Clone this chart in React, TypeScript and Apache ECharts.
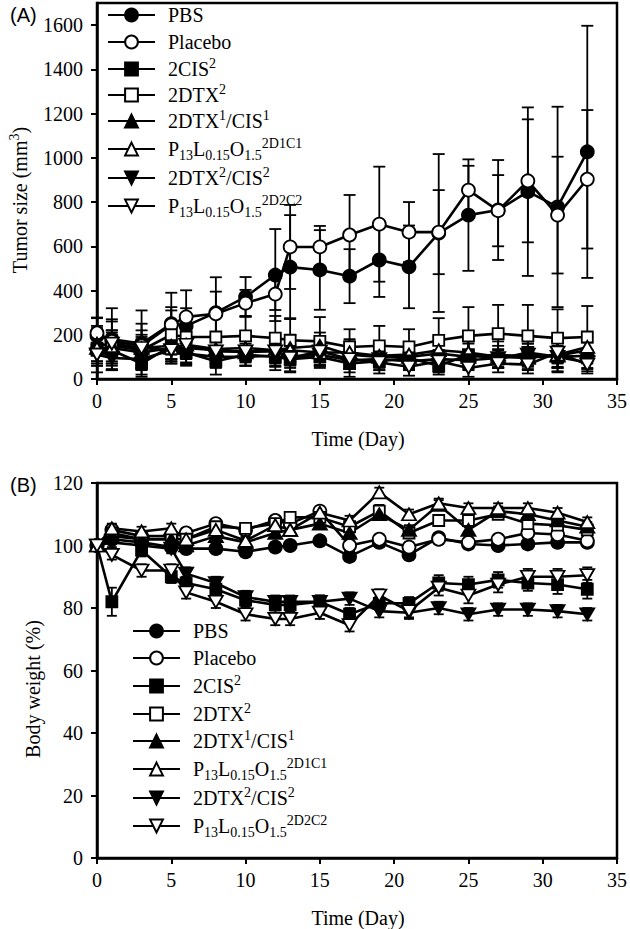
import React, { useEffect, useRef } from 'react';
import * as echarts from 'echarts';

// ---------- data ----------
const days = [0, 1, 3, 5, 6, 8, 10, 12, 13, 15, 17, 19, 21, 23, 25, 27, 29, 31, 33];

const seriesNames = ['PBS', 'Placebo', '2CIS2', '2DTX2', '2DTX1/CIS1', 'P13L0.15O1.5 2D1C1', '2DTX2/CIS2', 'P13L0.15O1.5 2D2C2'];
const legendLabels = [
  'PBS',
  'Placebo',
  '2CIS{sup|2}',
  '2DTX{sup|2}',
  '2DTX{sup|1}/CIS{sup|1}',
  'P{sub|13}L{sub|0.15}O{sub|1.5}{sup|2D1C1}',
  '2DTX{sup|2}/CIS{sup|2}',
  'P{sub|13}L{sub|0.15}O{sub|1.5}{sup|2D2C2}',
];

// (A) tumor size (mm3)
const tumorPBS = [195, 180, 160, 250, 240, 300, 371, 470, 506, 493, 465, 538, 507, 660, 741, 764, 847, 778, 1027];
const tumorPBSErr = [80, 140, 150, 140, 80, 160, 90, 208, 235, 180, 122, 167, 187, 357, 252, 226, 381, 453, 570];
const tumorPlacebo = [208, 170, 150, 245, 281, 295, 343, 384, 597, 597, 651, 700, 664, 664, 854, 761, 896, 741, 903];
const tumorPlaceboErr = [70, 100, 100, 80, 120, 100, 60, 72, 190, 95, 181, 260, 136, 190, 110, 161, 278, 264, 313];
const tumor2CIS2 = [140, 130, 70, 150, 120, 80, 110, 100, 90, 100, 70, 80, 95, 60, 110, 90, 120, 100, 105];
const tumor2CIS2Err = [60, 70, 50, 60, 60, 60, 50, 60, 60, 50, 60, 40, 50, 40, 60, 40, 60, 70, 60];
const tumor2DTX2 = [130, 150, 130, 200, 190, 190, 195, 185, 175, 170, 145, 150, 145, 175, 195, 205, 195, 185, 190];
const tumor2DTX2Err = [100, 110, 90, 110, 100, 100, 90, 100, 100, 110, 80, 90, 80, 100, 130, 130, 140, 130, 140];
const tumorD1C1 = [160, 150, 140, 150, 140, 130, 120, 130, 140, 150, 110, 100, 100, 115, 100, 110, 100, 105, 130];
const tumorD1C1Err = [80, 70, 60, 70, 70, 60, 60, 70, 60, 60, 60, 60, 50, 60, 60, 60, 60, 70, 60];
const tumorP2D1C1 = [140, 140, 120, 140, 155, 135, 140, 130, 130, 120, 120, 105, 110, 130, 120, 100, 95, 110, 145];
const tumorP2D1C1Err = [70, 70, 60, 70, 80, 60, 60, 60, 70, 60, 60, 50, 50, 60, 60, 50, 50, 60, 60];
const tumorD2C2 = [110, 95, 90, 130, 115, 100, 100, 105, 100, 110, 85, 90, 80, 90, 85, 95, 110, 100, 75];
const tumorD2C2Err = [50, 50, 40, 50, 50, 50, 40, 50, 50, 50, 40, 40, 40, 40, 40, 40, 50, 50, 40];
const tumorP2D2C2 = [110, 160, 140, 130, 155, 125, 125, 125, 95, 125, 90, 75, 55, 80, 50, 70, 65, 120, 65];
const tumorP2D2C2Err = [50, 60, 50, 60, 60, 50, 50, 50, 60, 60, 60, 50, 40, 50, 40, 40, 40, 50, 40];

// (B) body weight (%)
const bwPBS = [100, 102, 101, 99.5, 99, 99, 98, 99.5, 100, 101.5, 96.5, 101, 97, 102.5, 100.5, 100, 100.5, 101, 101];
const bwPBSErr = [0.5, 1.5, 1.5, 1.5, 1.5, 1.5, 1.5, 1.5, 1.5, 1.5, 1.5, 1.5, 1.5, 1.5, 1.5, 1.5, 1.5, 1.5, 1.5];
const bwPlacebo = [100, 105, 103, 103, 104, 107, 105, 108, 107, 111, 100, 102, 99.5, 102, 101, 102, 104, 103.5, 101.5];
const bwPlaceboErr = [0.5, 1.5, 1.5, 1.5, 1.5, 1.5, 1.5, 1.5, 1.5, 1.5, 1.5, 1.5, 1.5, 1.5, 1.5, 1.5, 1.5, 1.5, 1.5];
const bw2CIS2 = [100, 82, 98.5, 90, 88, 86, 82.5, 81, 81, 82, 78, 81.5, 81.5, 88, 87.5, 89, 88, 87.5, 86];
const bw2CIS2Err = [0.5, 4.5, 2, 2, 2, 2, 2, 2.5, 2, 2, 2, 2, 2, 2.5, 2.5, 2.5, 2.5, 3, 3];
const bw2DTX2 = [100, 104, 102, 102, 102, 106, 105.5, 107, 109, 109, 106, 111, 104, 108, 108, 110, 107, 106.5, 105];
const bw2DTX2Err = [0.5, 1.5, 1.5, 1.5, 1.5, 1.5, 1.5, 1.5, 1.5, 1.5, 1.5, 2, 1.5, 1.5, 1.5, 1.5, 1.5, 1.5, 1.5];
const bwD1C1 = [100, 103, 102, 102, 100, 103, 101, 104, 105, 107, 104, 110, 105, 113, 105, 111, 110, 108, 106];
const bwD1C1Err = [0.5, 1.5, 1.5, 1.5, 1.5, 1.5, 1.5, 1.5, 1.5, 1.5, 1.5, 1.5, 1.5, 1.5, 1.5, 1.5, 1.5, 1.5, 1.5];
const bwP2D1C1 = [100, 105.5, 104.5, 105.5, 102, 105, 101.5, 106.5, 105, 110.5, 108, 117, 110, 113.5, 112, 112, 112, 110.5, 107.5];
const bwP2D1C1Err = [0.5, 1.5, 1.5, 1.5, 1.5, 1.5, 1.5, 1.5, 1.5, 1.5, 1.5, 1.5, 1.5, 1.5, 1.5, 1.5, 1.5, 1.5, 1.5];
const bwD2C2 = [100, 101, 100, 99, 91, 88, 83.5, 82, 82, 82, 83, 79, 78.5, 80, 78, 79.5, 79.5, 79, 78];
const bwD2C2Err = [0.5, 1.5, 1.5, 1.5, 2, 2, 2, 2, 2, 2, 2, 2, 2, 2, 2, 2, 2, 2, 2];
const bwP2D2C2 = [100, 97, 92, 92, 85, 82, 78, 76.5, 76.5, 78.5, 74.5, 84, 79, 86.5, 84, 87.5, 90, 90, 90.5];
const bwP2D2C2Err = [0.5, 1.5, 2, 2, 2, 2, 2, 2, 2, 2, 2, 2, 2, 2.5, 2.5, 2.5, 2.5, 2.5, 2.5];

const tumorValues = [tumorPBS, tumorPlacebo, tumor2CIS2, tumor2DTX2, tumorD1C1, tumorP2D1C1, tumorD2C2, tumorP2D2C2];
const tumorErrors = [tumorPBSErr, tumorPlaceboErr, tumor2CIS2Err, tumor2DTX2Err, tumorD1C1Err, tumorP2D1C1Err, tumorD2C2Err, tumorP2D2C2Err];
const bwValues = [bwPBS, bwPlacebo, bw2CIS2, bw2DTX2, bwD1C1, bwP2D1C1, bwD2C2, bwP2D2C2];
const bwErrors = [bwPBSErr, bwPlaceboErr, bw2CIS2Err, bw2DTX2Err, bwD1C1Err, bwP2D1C1Err, bwD2C2Err, bwP2D2C2Err];

const xTicks = [0, 5, 10, 15, 20, 25, 30, 35];
const tumorTicks = [0, 200, 400, 600, 800, 1000, 1200, 1400, 1600];
const bwTicks = [0, 20, 40, 60, 80, 100, 120];

// ---------- styles ----------
const FONT = 'Liberation Serif, Times New Roman, serif';
const SANS = 'Liberation Sans, Arial, sans-serif';
const DOWN = 'path://M0,0L10,0L5,8.66Z';
const markerDefs: [string, boolean, number | number[]][] = [
  ['circle', true, 13],
  ['circle', false, 13],
  ['rect', true, 11],
  ['rect', false, 11],
  ['triangle', true, [14, 12]],
  ['triangle', false, [14, 12]],
  [DOWN, true, [14, 12]],
  [DOWN, false, [14, 12]],
];

const rich = {
  sub: { fontFamily: FONT, fontSize: 14, color: '#000', padding: [12, 0, 0, 0] },
  sup: { fontFamily: FONT, fontSize: 14, color: '#000', padding: [0, 0, 12, 0] },
};

const legendRowsA = [15, 42, 68, 94, 120, 148, 177, 205];
const legendRowsB = [631, 658, 685, 713, 740, 768, 797, 825];

function buildOption() {
  const series: any[] = [];
  const panels = [
    { values: tumorValues, errors: tumorErrors, cap: 6 },
    { values: bwValues, errors: bwErrors, cap: 5 },
  ];
  panels.forEach((p, g) => {
    const errData: number[][] = [];
    p.values.forEach((vals, i) => {
      vals.forEach((v, k) => {
        errData.push([days[k], Math.max(0, v - p.errors[i][k]), v + p.errors[i][k]]);
      });
    });
    series.push({
      type: 'custom',
      name: 'err' + g,
      xAxisIndex: g,
      yAxisIndex: g,
      silent: true,
      z: 1,
      data: errData,
      encode: { x: 0, y: [1, 2] },
      renderItem: (params: any, api: any) => {
        const x = api.value(0);
        const lo = api.coord([x, api.value(1)]);
        const hi = api.coord([x, api.value(2)]);
        const st = { stroke: '#000', lineWidth: 1.8 };
        const w = p.cap;
        return {
          type: 'group',
          children: [
            { type: 'line', shape: { x1: lo[0], y1: lo[1], x2: hi[0], y2: hi[1] }, style: st },
            { type: 'line', shape: { x1: lo[0] - w, y1: lo[1], x2: lo[0] + w, y2: lo[1] }, style: st },
            { type: 'line', shape: { x1: hi[0] - w, y1: hi[1], x2: hi[0] + w, y2: hi[1] }, style: st },
          ],
        };
      },
    });
    p.values.forEach((vals, i) => {
      const [sym, filled, size] = markerDefs[i];
      series.push({
        type: 'line',
        name: seriesNames[i],
        xAxisIndex: g,
        yAxisIndex: g,
        z: 2,
        data: days.map((d, k) => [d, vals[k]]),
        symbol: sym,
        symbolSize: size,
        showAllSymbol: true,
        lineStyle: { color: '#000', width: 2.6 },
        itemStyle: { color: filled ? '#000' : '#fff', borderColor: '#000', borderWidth: 1.8, opacity: 1 },
        emphasis: { disabled: true },
      });
    });
  });

  const legends: any[] = [];
  [legendRowsA, legendRowsB].forEach((rows, g) => {
    rows.forEach((cy, i) => {
      legends.push({
        data: [seriesNames[i]],
        orient: 'vertical',
        left: g === 0 ? 107 : 132,
        top: cy - 12,
        padding: 0,
        itemGap: 0,
        itemWidth: 47,
        itemHeight: 16,
        selectedMode: false,
        formatter: () => legendLabels[i],
        textStyle: { fontFamily: FONT, fontSize: 20, color: '#000', lineHeight: 24, padding: [0, 0, 0, 8], rich },
      });
    });
  });

  const axisCommon = {
    axisLine: { show: true, onZero: false, lineStyle: { color: '#000', width: 2.5 } },
    axisTick: { show: true, inside: false, length: 6, lineStyle: { color: '#000', width: 2 } },
    splitLine: { show: false },
  };
  const labelStyle = { fontFamily: FONT, fontSize: 20, color: '#000', formatter: (v: number) => String(v) };

  const xAxis = [0, 1].map((g) => ({
    type: 'value',
    gridIndex: g,
    min: 0,
    max: 35,
    interval: 5,
    ...axisCommon,
    axisTick: { ...axisCommon.axisTick, customValues: xTicks },
    axisLabel: { ...labelStyle, margin: 12, customValues: xTicks },
  }));
  const yAxis = [
    {
      type: 'value',
      gridIndex: 0,
      min: 0,
      max: 1700,
      interval: 100,
      ...axisCommon,
      axisTick: { ...axisCommon.axisTick, customValues: tumorTicks },
      axisLabel: { ...labelStyle, margin: 14, customValues: tumorTicks },
    },
    {
      type: 'value',
      gridIndex: 1,
      min: 0,
      max: 120,
      interval: 20,
      ...axisCommon,
      axisTick: { ...axisCommon.axisTick, customValues: bwTicks },
      axisLabel: { ...labelStyle, margin: 14, customValues: bwTicks },
    },
  ];

  const titleText = (text: string, x: number, y: number, rot: number) => ({
    type: 'text',
    x,
    y,
    rotation: rot,
    style: { text, fontFamily: FONT, fontSize: 20, fill: '#000', align: 'center', verticalAlign: 'middle', rich },
  });

  return {
    animation: false,
    backgroundColor: '#fff',
    textStyle: { fontFamily: FONT },
    grid: [
      { left: 97, top: 3, width: 522, height: 376, show: true, borderColor: '#000', borderWidth: 2.5, backgroundColor: 'transparent' },
      { left: 97, top: 483, width: 522, height: 375, show: true, borderColor: '#000', borderWidth: 2.5, backgroundColor: 'transparent' },
    ],
    xAxis,
    yAxis,
    legend: legends,
    series,
    graphic: [
      { type: 'text', x: 10, y: 15, style: { text: '(A)', fontFamily: SANS, fontSize: 20, fill: '#000', verticalAlign: 'middle' } },
      { type: 'text', x: 10, y: 485, style: { text: '(B)', fontFamily: SANS, fontSize: 20, fill: '#000', verticalAlign: 'middle' } },
      titleText('Time (Day)', 358, 439, 0),
      titleText('Time (Day)', 358, 918, 0),
      titleText('Tumor size (mm{sup|3})', 20, 200, Math.PI / 2),
      titleText('Body weight (%)', 33, 689, Math.PI / 2),
    ],
  };
}

export default function App() {
  const ref = useRef<HTMLDivElement>(null);
  useEffect(() => {
    if (!ref.current) return;
    const chart = echarts.init(ref.current, undefined, { renderer: 'svg' });
    chart.setOption(buildOption() as any);
    return () => chart.dispose();
  }, []);
  return (
    <div
      ref={ref}
      style={{ position: 'absolute', left: 0, top: 0, width: 630, height: 929, background: '#fff' }}
    />
  );
}
